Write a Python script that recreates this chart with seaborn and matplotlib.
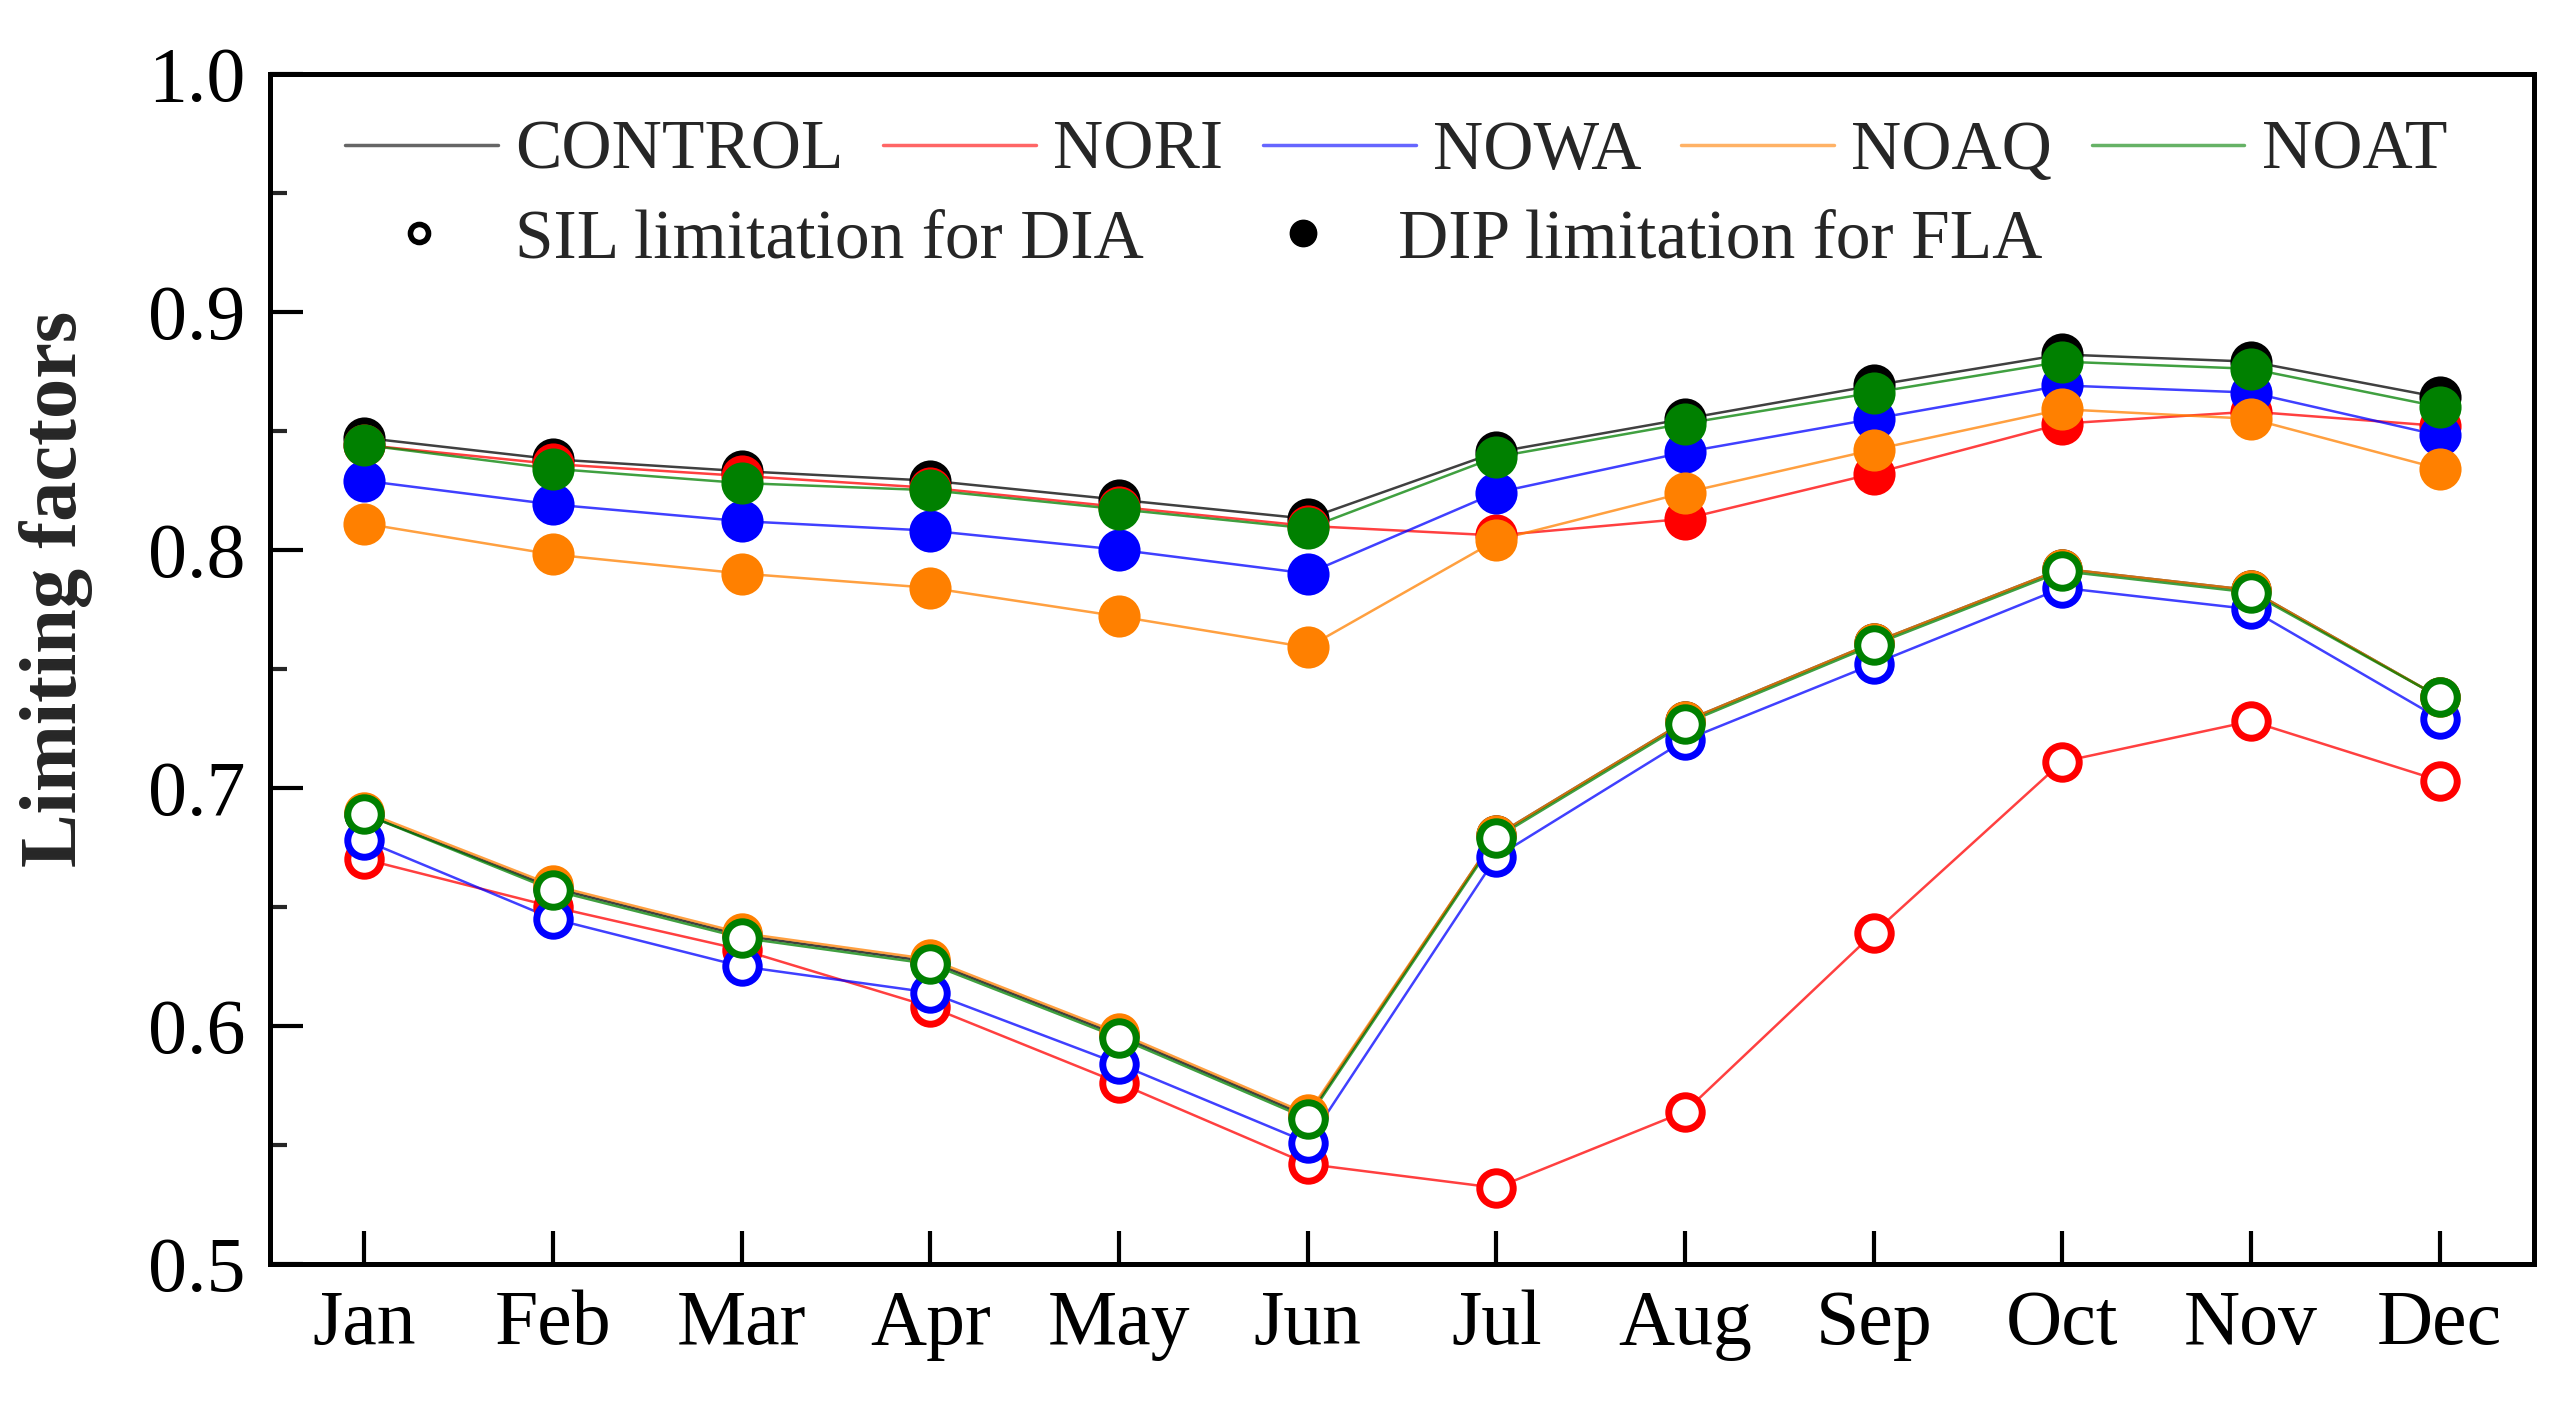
import numpy as np
import matplotlib
matplotlib.use("Agg")
import matplotlib.pyplot as plt
from matplotlib.lines import Line2D
from matplotlib.ticker import MultipleLocator, FormatStrFormatter
import seaborn as sns

months = ["Jan", "Feb", "Mar", "Apr", "May", "Jun", "Jul", "Aug", "Sep", "Oct", "Nov", "Dec"]
scenarios = ["CONTROL", "NORI", "NOWA", "NOAQ", "NOAT"]
colors = ["#000000", "#FF0000", "#0000FF", "#FF8000", "#008000"]

# DIP limitation for FLA (filled circles)
dip_control = [0.847, 0.838, 0.833, 0.829, 0.821, 0.813, 0.841, 0.855, 0.869, 0.882, 0.879, 0.864]
dip_nori = [0.844, 0.836, 0.831, 0.826, 0.818, 0.810, 0.806, 0.813, 0.832, 0.853, 0.858, 0.852]
dip_nowa = [0.829, 0.819, 0.812, 0.808, 0.800, 0.790, 0.824, 0.841, 0.855, 0.869, 0.866, 0.848]
dip_noaq = [0.811, 0.798, 0.790, 0.784, 0.772, 0.759, 0.804, 0.824, 0.842, 0.859, 0.855, 0.834]
dip_noat = [0.844, 0.834, 0.828, 0.825, 0.817, 0.809, 0.839, 0.853, 0.866, 0.879, 0.876, 0.860]

# SIL limitation for DIA (open circles)
sil_control = [0.689, 0.658, 0.638, 0.627, 0.596, 0.562, 0.680, 0.728, 0.761, 0.792, 0.783, 0.738]
sil_nori = [0.670, 0.650, 0.632, 0.608, 0.576, 0.542, 0.532, 0.564, 0.639, 0.711, 0.728, 0.703]
sil_nowa = [0.678, 0.645, 0.625, 0.614, 0.584, 0.551, 0.671, 0.720, 0.752, 0.784, 0.775, 0.729]
sil_noaq = [0.690, 0.659, 0.639, 0.628, 0.597, 0.563, 0.680, 0.728, 0.761, 0.792, 0.783, 0.738]
sil_noat = [0.689, 0.657, 0.637, 0.626, 0.595, 0.561, 0.679, 0.727, 0.760, 0.791, 0.782, 0.738]

dip = [dip_control, dip_nori, dip_nowa, dip_noaq, dip_noat]
sil = [sil_control, sil_nori, sil_nowa, sil_noaq, sil_noat]

sns.set_theme(style="ticks")
plt.rcParams["font.family"] = ["Liberation Serif", "DejaVu Serif"]

fig, ax = plt.subplots(figsize=(25.55, 14.09), dpi=100)
fig.subplots_adjust(left=0.1057, right=0.9918, top=0.9478, bottom=0.1029)

x = np.arange(len(months))

# open circles first, then filled
for i, (name, c) in enumerate(zip(scenarios, colors)):
    sns.lineplot(x=x, y=sil[i], color=c, lw=1.8, alpha=0.75, sort=False,
                 estimator=None, ax=ax)
    sns.scatterplot(x=x, y=sil[i], color="white", edgecolor=c, linewidth=5,
                    s=580, zorder=3 + i, ax=ax, legend=False)

for i, (name, c) in enumerate(zip(scenarios, colors)):
    sns.lineplot(x=x, y=dip[i], color=c, lw=1.8, alpha=0.75, sort=False,
                 estimator=None, ax=ax)
    sns.scatterplot(x=x, y=dip[i], color=c, edgecolor=c, linewidth=0,
                    s=920, zorder=10 + i, ax=ax, legend=False)

ax.set_xlim(-0.5, 11.5)
ax.set_ylim(0.5, 1.0)
ax.set_xticks(x)
ax.set_xticklabels(months)
ax.yaxis.set_major_locator(MultipleLocator(0.1))
ax.yaxis.set_minor_locator(MultipleLocator(0.05))
ax.yaxis.set_major_formatter(FormatStrFormatter("%.1f"))
ax.tick_params(axis="both", which="major", direction="in", length=24, width=3,
               labelsize=56, colors="black")
ax.tick_params(axis="x", pad=18)
ax.tick_params(axis="y", pad=18)
ax.tick_params(axis="y", which="minor", direction="in", length=12, width=3)
for sp in ax.spines.values():
    sp.set_linewidth(3.6)
    sp.set_color("black")

ax.set_xlabel("")
ax.set_ylabel("Limiting factors", fontsize=58, fontweight="bold")
ax.yaxis.set_label_coords(-0.078, 0.567)

# legend row 1: scenario lines
line_handles = [Line2D([], [], color=c, lw=2.5, alpha=0.6) for c in colors]
leg1 = ax.legend(line_handles, scenarios, loc="center left",
                 bbox_to_anchor=(0.033, 0.934), ncol=5, frameon=False,
                 fontsize=50, handlelength=2.2, handletextpad=0.25,
                 columnspacing=0.57, borderpad=0, borderaxespad=0)
ax.add_artist(leg1)

# legend row 2: marker types
mk_handles = [
    Line2D([], [], ls="none", marker="o", mfc="white", mec="black", ms=13, mew=4),
    Line2D([], [], ls="none", marker="o", mfc="black", mec="black", ms=19),
]
mk_labels = ["SIL limitation for DIA", "DIP limitation for FLA"]
leg2 = ax.legend(mk_handles, mk_labels, loc="center left",
                 bbox_to_anchor=(0.043, 0.860), ncol=2, frameon=False,
                 fontsize=50, handlelength=1.5, handletextpad=0.62,
                 columnspacing=1.55, borderpad=0, borderaxespad=0)

fig.savefig("out.png", dpi=100, facecolor="white")
